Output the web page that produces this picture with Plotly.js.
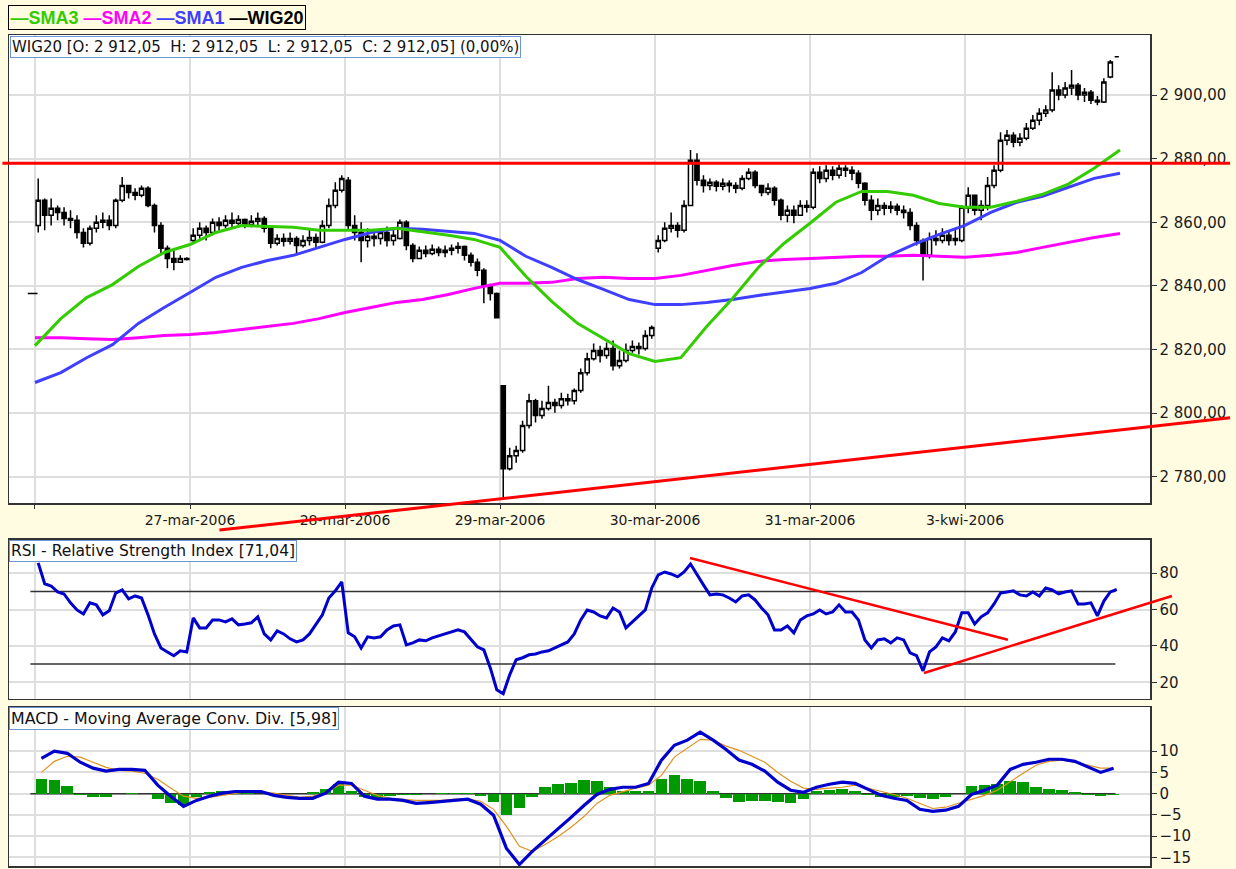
<!DOCTYPE html>
<html>
<head>
<meta charset="utf-8">
<script src="https://cdn.plot.ly/plotly-3.0.1.min.js"></script>
<style>
html,body{margin:0;padding:0;background:#FFFCE1;}
#chart{width:1236px;height:869px;}
</style>
</head>
<body>
<div id="chart"></div>
<script>
// ---------- categories ----------
const sessions = ['24-mar-2006','27-mar-2006','28-mar-2006','29-mar-2006','30-mar-2006','31-mar-2006','3-kwi-2006'];
const dayLabels = ['', '27-mar-2006','28-mar-2006','29-mar-2006','30-mar-2006','31-mar-2006','3-kwi-2006'];
const barsPerDay = 24;        // price / RSI slots per session
const macdPerDay = 12;        // MACD slots per session
const smaPerDay = 6;          // SMA sample slots per session

// ---------- WIG20 OHLC ----------
const opens = [
2859.0,2866.9,2862.2,2864.4,2863.1,2861.2,2860.6,2856.8,2853.4,2858.1,2860.0,2860.6,2859.0,2866.9,2871.6,2869.4,2868.5,2870.7,2865.3,2859.0,2851.8,2848.6,2847.4,2848.6,
2854.3,2855.9,2858.1,2856.8,2860.0,2859.0,2860.6,2859.7,2860.9,2859.3,2860.3,2861.2,2858.1,2853.4,2854.9,2854.0,2854.9,2852.7,2854.3,2855.2,2853.7,2859.0,2865.3,2870.1,
2873.2,2859.0,2856.8,2854.3,2855.6,2854.9,2856.8,2854.3,2854.9,2860.0,2852.7,2848.6,2851.2,2850.2,2851.5,2850.5,2851.2,2851.8,2852.4,2849.6,2847.4,2844.9,2840.1,2837.6,
2808.6,2782.5,2786.6,2788.2,2796.1,2803.9,2799.2,2801.4,2803.3,2802.4,2804.5,2803.9,2807.1,2812.7,2817.1,2819.7,2818.1,2820.3,2814.9,2816.5,2819.7,2820.9,2820.3,2824.4,
2851.8,2854.3,2858.1,2859.0,2857.5,2865.3,2879.5,2873.2,2871.6,2872.6,2871.3,2872.3,2871.6,2870.7,2873.8,2875.7,2871.6,2869.4,2870.7,2866.9,2862.2,2863.8,2862.2,2865.3,
2864.7,2875.7,2873.8,2876.4,2874.8,2877.0,2876.4,2875.4,2872.3,2866.9,2863.8,2865.3,2864.4,2865.0,2863.8,2863.1,2859.0,2854.3,2849.6,2854.9,2854.3,2855.9,2854.3,2854.3,
2864.4,2868.5,2863.8,2865.3,2871.6,2876.4,2885.8,2887.4,2885.2,2886.4,2889.6,2892.1,2894.3,2895.3,2901.6,2900.0,2902.2,2903.1,2900.0,2900.9,2898.4,2897.8,2905.7,2912.05];
const highs = [
2873.8,2867.5,2867.5,2865.3,2864.7,2863.8,2862.2,2858.1,2859.0,2862.2,2863.1,2862.2,2867.5,2874.2,2871.6,2870.7,2871.6,2871.3,2865.9,2860.0,2852.7,2851.2,2849.6,2849.0,
2858.1,2860.0,2859.0,2861.2,2861.6,2862.2,2863.1,2862.2,2861.2,2862.2,2863.1,2861.9,2858.7,2856.2,2856.5,2856.8,2855.6,2855.9,2858.1,2856.5,2860.6,2867.5,2872.6,2874.8,
2874.2,2862.2,2860.0,2858.1,2857.5,2858.1,2858.7,2858.4,2860.9,2860.6,2853.4,2852.4,2852.7,2853.0,2852.4,2852.7,2853.0,2853.7,2852.7,2850.5,2848.6,2845.5,2840.7,2837.9,
2808.6,2789.1,2789.7,2797.6,2806.1,2804.5,2803.9,2808.6,2804.5,2806.4,2806.1,2807.7,2814.0,2819.0,2821.9,2821.2,2822.2,2822.8,2819.7,2821.9,2822.8,2822.2,2826.0,2827.5,
2855.9,2860.0,2863.1,2860.0,2866.9,2882.7,2881.7,2874.8,2873.8,2873.2,2873.8,2873.2,2872.6,2874.8,2877.0,2876.4,2871.6,2872.3,2871.3,2867.5,2865.3,2865.3,2866.9,2866.9,
2877.0,2877.6,2877.9,2877.6,2878.2,2877.9,2877.6,2876.4,2872.6,2868.5,2867.5,2866.3,2866.6,2865.9,2865.3,2864.4,2860.0,2854.9,2856.8,2857.5,2858.1,2857.5,2858.1,2865.3,
2871.0,2868.5,2866.9,2874.2,2877.9,2888.3,2889.0,2888.3,2888.0,2891.2,2893.7,2895.9,2896.8,2907.2,2903.1,2904.1,2907.9,2903.8,2902.2,2901.6,2899.7,2905.3,2911.0,2912.05];
const lows = [
2856.8,2857.5,2859.0,2860.6,2859.0,2858.1,2854.9,2852.1,2852.7,2856.8,2858.1,2857.5,2858.1,2866.3,2867.5,2866.9,2867.9,2864.7,2856.8,2849.6,2845.5,2844.9,2847.4,2848.0,
2853.4,2854.9,2854.3,2855.9,2857.5,2858.1,2858.1,2858.4,2858.1,2858.4,2858.7,2856.8,2851.8,2852.7,2852.4,2853.0,2849.6,2852.1,2852.7,2851.8,2853.4,2858.1,2864.4,2869.4,
2857.5,2854.3,2847.4,2852.1,2852.4,2853.0,2852.4,2852.7,2854.6,2851.2,2847.4,2848.6,2849.0,2849.6,2849.3,2849.0,2849.6,2850.2,2848.0,2846.1,2843.0,2834.5,2835.4,2829.7,
2773.4,2781.9,2784.4,2787.5,2795.1,2797.0,2798.2,2800.8,2800.1,2801.4,2802.4,2802.7,2806.4,2811.8,2816.5,2815.9,2817.1,2813.4,2814.0,2815.9,2819.0,2818.4,2819.7,2823.4,
2850.5,2853.7,2856.8,2855.2,2856.8,2865.0,2871.6,2869.4,2870.1,2869.7,2870.1,2869.4,2869.1,2870.1,2873.2,2870.7,2868.2,2868.5,2865.3,2860.6,2860.0,2859.7,2862.2,2863.1,
2864.1,2872.3,2872.6,2873.2,2873.8,2874.2,2873.2,2870.7,2865.3,2860.6,2862.2,2862.2,2862.8,2862.2,2861.2,2857.5,2852.7,2841.7,2848.6,2852.7,2853.4,2852.7,2852.7,2853.7,
2862.8,2862.2,2860.6,2863.8,2870.7,2875.7,2884.2,2883.6,2883.9,2885.8,2889.0,2890.5,2893.1,2894.6,2898.4,2899.0,2900.0,2898.4,2897.8,2897.2,2896.8,2897.5,2905.3,2912.05];
const closes = [
2866.9,2862.2,2864.4,2863.1,2861.2,2860.6,2856.8,2853.4,2858.1,2860.0,2860.6,2859.0,2866.9,2871.6,2869.4,2868.5,2870.7,2865.3,2859.0,2851.8,2848.6,2847.4,2848.6,2848.3,
2855.9,2858.1,2856.8,2860.0,2859.0,2860.6,2859.7,2860.9,2859.3,2860.3,2861.2,2858.1,2853.4,2854.9,2854.0,2854.9,2852.7,2854.3,2855.2,2853.7,2859.0,2865.3,2870.1,2873.8,
2859.0,2856.8,2854.3,2855.6,2854.9,2856.8,2854.3,2855.9,2860.0,2852.7,2848.6,2851.2,2850.2,2851.5,2850.5,2851.2,2851.8,2852.4,2849.6,2847.4,2844.9,2840.1,2837.6,2830.0,
2782.5,2786.6,2788.2,2796.1,2803.9,2799.2,2801.4,2803.3,2802.4,2804.5,2803.9,2807.1,2812.7,2817.1,2819.7,2818.1,2820.3,2814.9,2816.5,2819.7,2820.9,2820.3,2824.4,2826.9,
2854.3,2858.1,2859.0,2857.5,2865.3,2879.5,2873.2,2871.6,2872.6,2871.3,2872.3,2871.6,2870.7,2873.8,2875.7,2871.6,2869.4,2870.7,2866.9,2862.2,2863.8,2862.2,2865.3,2864.7,
2875.7,2873.8,2876.4,2874.8,2877.0,2876.4,2875.4,2872.3,2866.9,2863.8,2865.3,2864.4,2865.0,2863.8,2863.1,2859.0,2854.3,2849.6,2854.9,2854.3,2855.9,2854.3,2854.9,2864.7,
2868.5,2863.8,2865.3,2871.6,2876.4,2885.8,2887.4,2885.2,2886.4,2889.6,2892.1,2894.3,2895.3,2901.6,2900.0,2902.2,2903.1,2900.0,2900.9,2898.4,2897.8,2904.1,2910.4,2912.05];
const preOpenTime = [-0.015];
const preOpenPrice = [2837.6];

// ---------- moving averages (sampled 6 per session) ----------
const sma3 = [2821.2,2829.7,2836.3,2840.4,2846.1,2850.5,2853.0,2856.8,2859.0,2858.7,2858.4,2857.5,2857.5,2857.5,2858.1,2857.1,2855.9,2854.6,2852.1,2843.0,2835.1,2828.2,2823.4,2818.7,2816.2,2817.4,2827.2,2836.0,2845.8,2853.4,2859.7,2866.3,2869.7,2869.7,2868.5,2865.9,2864.7,2864.7,2866.6,2868.8,2872.0,2877.0,2882.7];
const sma2 = [2823.7,2823.7,2823.4,2823.1,2823.7,2824.4,2824.7,2825.3,2826.3,2827.2,2828.2,2829.7,2831.6,2833.2,2834.8,2835.7,2837.3,2839.2,2840.8,2840.8,2841.1,2842.3,2842.7,2842.3,2842.3,2843.3,2844.9,2846.4,2847.7,2848.3,2848.6,2849.0,2849.3,2849.3,2849.6,2849.3,2849.0,2849.6,2850.5,2852.1,2853.7,2855.2,2856.5];
const sma1 = [2809.6,2812.7,2817.4,2821.5,2828.2,2833.2,2837.9,2842.7,2845.8,2848.0,2849.6,2852.1,2854.6,2856.8,2858.1,2857.8,2857.1,2856.5,2854.3,2849.3,2845.8,2842.0,2838.9,2835.7,2834.1,2834.1,2834.8,2835.7,2837.0,2838.2,2839.2,2840.8,2844.2,2849.3,2853.0,2856.2,2859.0,2863.1,2866.3,2868.2,2871.0,2873.8,2875.4];

// ---------- RSI (one value per price slot) ----------
const rsi = [
85.7,74.2,73.0,69.7,68.6,63.7,59.8,57.6,63.7,62.6,57.1,59.3,69.1,70.8,65.9,67.5,66.4,57.1,46.6,38.9,36.7,34.6,37.3,36.7,
55.4,49.9,49.9,54.3,54.3,53.2,54.9,51.6,52.1,52.7,56.0,46.6,43.3,48.3,46.6,43.9,42.2,43.3,46.6,52.1,57.1,66.4,70.3,75.2,
47.2,45.0,38.9,45.0,44.4,45.0,48.8,51.0,51.6,40.6,41.7,43.3,42.8,44.4,45.5,46.6,47.7,48.8,47.7,43.3,39.5,37.8,27.9,15.9,
13.7,24.1,32.4,33.5,35.1,35.6,36.7,37.3,38.9,40.6,42.2,46.6,54.3,59.8,58.7,56.5,55.4,60.9,58.7,49.9,53.2,56.5,59.8,71.9,
79.1,80.7,79.6,78.0,80.7,85.1,79.1,73.6,68.1,68.6,68.1,66.4,64.2,67.5,68.1,65.3,60.9,57.1,48.8,48.8,51.0,47.2,54.3,56.5,
57.6,59.8,57.6,58.7,62.6,58.7,58.7,54.3,43.3,38.9,43.3,43.9,41.7,44.4,43.3,36.2,34.6,26.3,36.7,39.5,44.4,42.8,47.7,58.2,
58.2,52.1,56.0,58.2,63.1,69.1,69.7,70.3,68.1,67.5,69.7,67.5,71.9,70.8,68.6,69.7,70.3,63.1,63.1,63.7,56.5,64.7,69.7,71.04];
const rsiLevels = [70, 30];

// ---------- MACD (12 per session) ----------
const macd = [
8.3,10.0,9.5,7.4,6.0,5.3,5.7,5.7,5.5,2.0,-0.6,-3.0,
-1.6,-0.6,0.1,0.5,0.5,0.5,-0.4,-0.9,-1.1,-1.1,0.1,2.7,
2.4,-0.6,-1.3,-1.3,-1.6,-2.3,-2.1,-1.8,-1.6,-1.3,-2.5,-5.1,
-12.9,-16.7,-13.6,-11.0,-8.2,-5.6,-2.8,-0.2,1.0,1.5,1.5,2.4,
7.9,11.4,12.6,14.5,12.6,10.4,7.9,6.9,5.3,2.7,0.8,0.3,
1.5,2.2,2.7,2.4,1.0,-0.4,-1.1,-1.6,-3.7,-4.2,-3.9,-3.0,
-0.2,0.8,2.0,5.7,6.9,7.4,8.1,8.1,7.6,6.4,5.0,5.98];
const signal = [
5.0,7.6,8.8,8.6,7.4,6.2,5.5,5.3,4.8,3.4,1.3,-0.6,
-1.1,-0.9,-0.4,0.1,0.5,0.3,0.1,-0.4,-0.9,-0.6,0.1,2.0,
2.0,0.8,-0.4,-1.1,-1.3,-1.6,-1.6,-1.6,-1.3,-1.3,-1.8,-3.7,
-7.7,-12.4,-13.6,-12.0,-10.1,-7.9,-5.4,-2.3,-0.4,0.5,1.3,2.0,
4.3,8.6,10.7,12.8,12.6,11.2,10.2,8.8,7.4,5.0,2.9,1.3,
1.0,1.3,1.5,2.0,1.3,0.5,-0.2,-1.1,-2.3,-3.5,-3.2,-2.3,
-1.3,-0.4,0.8,2.9,4.8,6.7,7.6,7.9,7.4,6.7,6.0,6.0];
const histogram = [
3.5,3.3,1.8,-0.4,-0.9,-0.8,-0.2,0.2,-0.2,-1.2,-2.2,-2.6,
-0.8,0.4,0.5,0.2,0.1,0,-0.1,-0.1,-0.1,0.3,1.2,2.2,
0.5,-0.8,-1.2,-0.6,-0.4,-0.3,-0.2,0.1,0.2,0.1,-0.6,-2.0,
-5.0,-3.5,-0.8,1.5,2.2,2.6,3.1,2.9,1.6,0.6,0.6,0.5,
3.5,4.5,3.5,3.0,0.5,-1.0,-2.0,-1.8,-1.8,-2.0,-2.2,-1.3,
0.5,0.8,1.0,0.6,-0.3,-0.8,-0.8,-0.6,-1.0,-1.2,-0.8,-0.2,
1.8,2.0,2.2,3.0,2.8,1.6,1.2,0.8,0.4,-0.4,-0.6,-0.3];

// ---------- drawn trend lines (session units, value units) ----------
const resistanceLevel = 2878.6;
const resistanceSpan = [-0.21, 7.71];
const supportX = [1.19, 7.71];
const supportY = [2763.2, 2798.5];
const rsiDownX = [4.226, 6.277];
const rsiDownY = [88.4, 43.4];
const rsiUpX = [5.735, 7.335];
const rsiUpY = [25.1, 67.5];
const levelSpan = [-0.03, 6.97];

// ---------- tick values ----------
const dayTicks = [0,1,2,3,4,5,6];
const priceTicks = [2780,2800,2820,2840,2860,2880,2900];
const rsiTicks = [20,40,60,80];
const macdTicks = [-15,-10,-5,0,5,10];

// ---------- axes geometry ----------
const xRange = [-0.1677, 7.1935];
const priceRange = [2771.7, 2918.9];
const rsiRange = [10.8, 98.3];
const macdRange = [-17.05, 20.4];
const priceDomain = [0.4368, 1.0];
const rsiDomain = [0.2010, 0.3923];
const macdDomain = [0.0, 0.1913];

// ---------- positions from categories ----------
const barX = [];
for (let d = 0; d < sessions.length; d++) for (let i = 0; i < barsPerDay; i++) barX.push(d + (i + 0.5) / barsPerDay);
const macdX = [];
for (let d = 0; d < sessions.length; d++) for (let j = 0; j < macdPerDay; j++) macdX.push(d + (j + 0.5) / macdPerDay);
const smaX = sma1.map((_, k) => k / smaPerDay);

function toPaper(xv, yv, yr, dom) {
  return [(xv - xRange[0]) / (xRange[1] - xRange[0]),
          dom[0] + (yv - yr[0]) / (yr[1] - yr[0]) * (dom[1] - dom[0])];
}
function paperLine(xs, ys, yr, dom, color, width) {
  const a = toPaper(xs[0], ys[0], yr, dom), b = toPaper(xs[1], ys[1], yr, dom);
  return {type:'line', xref:'paper', yref:'paper', x0:a[0], y0:a[1], x1:b[0], y1:b[1],
          line:{color:color, width:width}, layer:'above'};
}

const tickFont = {family:'DejaVu Sans, Verdana, sans-serif', size:15, color:'#1a1a1a'};
const gridColor = '#DEDEDE';

const traces = [
  {type:'scatter', mode:'lines', x:smaX, y:sma2, xaxis:'x', yaxis:'y', name:'SMA2', line:{color:'#FF00FF', width:3}},
  {type:'scatter', mode:'lines', x:smaX, y:sma1, xaxis:'x', yaxis:'y', name:'SMA1', line:{color:'#3F3FFF', width:3}},
  {type:'scatter', mode:'lines', x:smaX, y:sma3, xaxis:'x', yaxis:'y', name:'SMA3', line:{color:'#33CC00', width:3}},
  {type:'candlestick', x:barX, open:opens, high:highs, low:lows, close:closes, xaxis:'x', yaxis:'y', name:'WIG20',
   increasing:{line:{color:'#000000', width:1.5}, fillcolor:'#FFFFFF'},
   decreasing:{line:{color:'#000000', width:1.5}, fillcolor:'#000000'}, whiskerwidth:0},
  {type:'scatter', mode:'markers', x:preOpenTime, y:preOpenPrice, xaxis:'x', yaxis:'y', name:'WIG20',
   marker:{symbol:'line-ew-open', size:7, color:'#000', line:{color:'#000', width:1.5}}},
  {type:'scatter', mode:'lines', x:barX, y:rsi, xaxis:'x2', yaxis:'y2', name:'RSI', line:{color:'#0000CC', width:3}},
  {type:'bar', x:macdX, y:histogram, xaxis:'x3', yaxis:'y3', name:'Hist', marker:{color:'#009900', line:{width:0}}, width:0.075},
  {type:'scatter', mode:'lines', x:macdX, y:signal, xaxis:'x3', yaxis:'y3', name:'Signal', line:{color:'#E0921E', width:1.2}},
  {type:'scatter', mode:'lines', x:macdX, y:macd, xaxis:'x3', yaxis:'y3', name:'MACD', line:{color:'#0000CC', width:3.2}}
];
traces.forEach(t => t.showlegend = false);

const shapes = [];
rsiLevels.forEach(lv => shapes.push({type:'line', xref:'x2', yref:'y2', x0:levelSpan[0], x1:levelSpan[1], y0:lv, y1:lv,
  line:{color:'#333333', width:1.5}, layer:'between'}));
shapes.push({type:'line', xref:'x3', yref:'y3', x0:levelSpan[0], x1:levelSpan[1], y0:0, y1:0,
  line:{color:'#333333', width:1.5}, layer:'between'});
shapes.push(paperLine(resistanceSpan, [resistanceLevel, resistanceLevel], priceRange, priceDomain, '#FF0000', 3));
shapes.push(paperLine(supportX, supportY, priceRange, priceDomain, '#FF0000', 3));
shapes.push(paperLine(rsiDownX, rsiDownY, rsiRange, rsiDomain, '#FF0000', 2.5));
shapes.push(paperLine(rsiUpX, rsiUpY, rsiRange, rsiDomain, '#FF0000', 2.5));

const boxFont = {family:'DejaVu Sans, Verdana, sans-serif', size:15.5, color:'#111'};
const nb = '\u00a0';
const annotations = [
  {xref:'paper', yref:'paper', x:-0.001, y:1.0361, xanchor:'left', yanchor:'top', showarrow:false,
   text:'<span style="color:#33CC00"><b>—SMA3</b></span> <span style="color:#FF00FF"><b>—SMA2</b></span> <span style="color:#3F3FFF"><b>—SMA1</b></span> <span style="color:#000000"><b>—WIG20</b></span>',
   font:{family:'Liberation Sans, Arial, sans-serif', size:18}, bordercolor:'#000', borderwidth:1, borderpad:1.5, bgcolor:'#FFFCE1'},
  {xref:'paper', yref:'paper', x:0.0009, y:0.9988, xanchor:'left', yanchor:'top', showarrow:false,
   text:'WIG20 [O: 2' + nb + '912,05' + nb + nb + 'H: 2' + nb + '912,05' + nb + nb + 'L: 2' + nb + '912,05' + nb + nb + 'C: 2' + nb + '912,05] (0,00%)',
   font:{family:'DejaVu Sans, Verdana, sans-serif', size:15, color:'#111'}, bordercolor:'#6B96D4', borderwidth:1, borderpad:1, bgcolor:'#FFFFFF'},
  {xref:'paper', yref:'paper', x:0.0, y:0.3923, xanchor:'left', yanchor:'top', showarrow:false,
   text:'RSI - Relative Strength Index [71,04]',
   font:boxFont, bordercolor:'#6B96D4', borderwidth:1, borderpad:1, bgcolor:'#FFFFFF'},
  {xref:'paper', yref:'paper', x:0.0, y:0.1913, xanchor:'left', yanchor:'top', showarrow:false,
   text:'MACD - Moving Average Conv. Div. [5,98]',
   font:{family:'DejaVu Sans, Verdana, sans-serif', size:15.8, color:'#111'}, bordercolor:'#6B96D4', borderwidth:1, borderpad:1, bgcolor:'#FFFFFF'}
];

const xCommon = {range:xRange, tickmode:'array', tickvals:dayTicks, ticktext:dayLabels, showgrid:true,
  gridcolor:gridColor, gridwidth:2, zeroline:false, showline:true, linecolor:'#333', linewidth:1.5, mirror:true};
const yCommon = {side:'right', showgrid:true, gridcolor:gridColor, gridwidth:2, zeroline:false, showline:true,
  linecolor:'#333', linewidth:1.5, mirror:true, ticks:'outside', ticklen:5, tickcolor:'#333', tickfont:tickFont, tickmode:'array'};

const layout = {
  width:1236, height:869,
  margin:{l:9, r:86, t:35, b:3},
  paper_bgcolor:'#FFFCE1', plot_bgcolor:'#FFFFFF',
  separators:', ',
  hovermode:false, showlegend:false, boxgap:0.35, boxgroupgap:0, bargap:0,
  xaxis:Object.assign({}, xCommon, {anchor:'y', ticks:'outside', ticklen:4, tickcolor:'#333',
    tickfont:{family:'DejaVu Sans, Verdana, sans-serif', size:14, color:'#1a1a1a'}, rangeslider:{visible:false}}),
  xaxis2:Object.assign({}, xCommon, {anchor:'y2', matches:'x', showticklabels:false, ticks:''}),
  xaxis3:Object.assign({}, xCommon, {anchor:'y3', matches:'x', showticklabels:false, ticks:''}),
  yaxis:Object.assign({}, yCommon, {domain:priceDomain, range:priceRange, tickvals:priceTicks, tickformat:',.2f', anchor:'x'}),
  yaxis2:Object.assign({}, yCommon, {domain:rsiDomain, range:rsiRange, tickvals:rsiTicks, anchor:'x2'}),
  yaxis3:Object.assign({}, yCommon, {domain:macdDomain, range:macdRange, tickvals:macdTicks, anchor:'x3'}),
  shapes:shapes,
  annotations:annotations
};

Plotly.newPlot('chart', traces, layout, {displayModeBar:false, staticPlot:true});
</script>
</body>
</html>
